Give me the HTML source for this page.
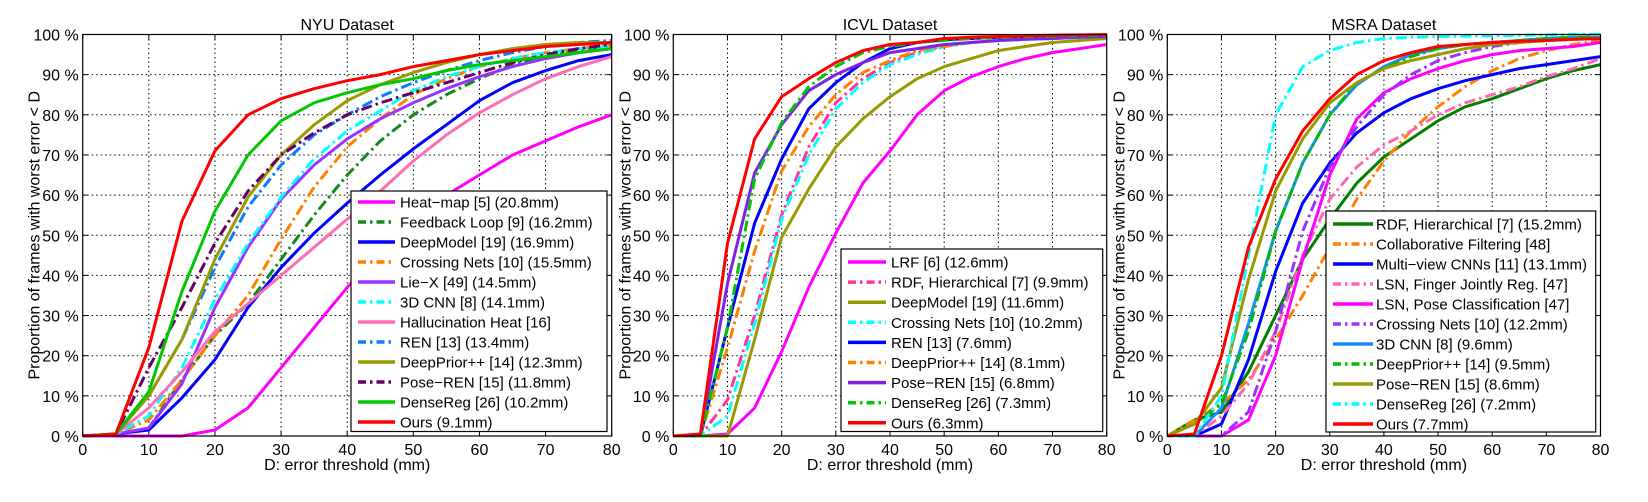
<!DOCTYPE html>
<html><head><meta charset="utf-8">
<style>
body{margin:0;background:#fff;}
svg{display:block;font-family:"Liberation Sans",Arial,sans-serif;}
</style></head>
<body>
<svg id="chart" width="1648" height="502" viewBox="0 0 1648 502" xmlns="http://www.w3.org/2000/svg"></svg>
<script>
const xValues = [0,5,10,15,20,25,30,35,40,45,50,55,60,65,70,75,80];
const xTicks = [0,10,20,30,40,50,60,70,80];
const yTicks = [0,10,20,30,40,50,60,70,80,90,100];

// NYU
const nyuHeat = [0,0,0,0,1.5,7,17,27,37,46,54,60,65,70,73.5,77,80];
const nyuFeedback = [0,0.5,2,14,25,33,44,55,65,73.5,80,85,89,92.5,94.5,96,97];
const nyuDeepModel = [0,0.5,1.5,9.5,19,32,42,50.5,58,65,71.5,77.5,83.5,88,91,93.5,95];
const nyuCrossing = [0,0.5,4,14,25,35,49,62,72,79,85,89,92,94,95.5,96.5,97.5];
const nyuLieX = [0,0.5,2,13,32,47,59,67.5,74,79,83,86.5,89.5,92,94,95.5,96.5];
const nyu3DCNN = [0,0.5,5,17,34,48,59.5,69,76,81,86,89.5,92,94,95.5,96.5,97];
const nyuHalluc = [0,0.5,7,16,26,33,40,47,54,61,68.5,75,80.5,85,89,92,94.5];
const nyuREN = [0,0.5,10,24,42,57,67.5,75,80,84.5,88,91,93.5,95.5,97,98,98.5];
const nyuDPP = [0,0.5,10,24,44,59.5,70,77.5,83.5,87.5,90.5,93,95,96.5,97.5,98,98];
const nyuPoseREN = [0,0.5,17,32,48,61,70,75.5,80,83,85.5,88,90.5,93,95,96.5,97.5];
const nyuDenseReg = [0,0.5,11,36,56,70,78.5,83,85.5,87.5,89,91,92.5,93.5,94.5,95.5,96.5];
const nyuOurs = [0,0.5,22,53.5,71,80,84,86.5,88.5,90,92,93.5,95,96,97,97.5,98];

// ICVL
const icvlLRF = [0,0,0.5,7,21,37,50.5,63,71,80,86,89.5,92,94,95.5,96.5,97.5];
const icvlRDF = [0,0,9,30,55,72,83,89,93,95.5,97,98,98.5,98.8,99,99.3,99.5];
const icvlDeepModel = [0,0,0,24,49.5,61.5,72,79,84.5,89,92,94,96,97,98,98.5,99];
const icvlCrossing = [0,0,5,28,54,70,81.5,88,92.5,95,97,98,98.5,98.8,99,99.3,99.5];
const icvlREN = [0,0,27,53,69,81.5,88,93,96.5,98,98.7,99,99.3,99.5,99.6,99.7,99.8];
const icvlDPP = [0,0,22,46,66,77,85,90.5,93.5,96,97,98,98.5,98.8,99,99.3,99.5];
const icvlPoseREN = [0,0,38,65.5,77.5,86,90,93,95.5,96.5,97.5,98,98.5,98.8,99,99.3,99.5];
const icvlDenseReg = [0,0,27,64,78,87,92,95.5,97,98,98.5,99,99.3,99.5,99.6,99.7,99.8];
const icvlOurs = [0,0.5,48,74,84.5,89,93,96,97.5,98,99,99.3,99.5,99.7,99.8,99.9,100];

// MSRA
const msraRDF = [0,4,6,16,30,44,54,63,69.5,74,78.5,82,84,86.5,89,91,92.5];
const msraCollab = [0,4,8,14,24,35,47,59,68.5,76,82,87,91,94,96,97.5,98.5];
const msraMultiView = [0,0,3,19,41,58,68,75.5,80.5,84,86.5,88.5,90,91.5,92.5,93.5,94.5];
const msraLSNFinger = [0,0,5,13,26,45,59,67,72.5,76,80,83,85,87,89.5,91.5,94];
const msraLSNPose = [0,0,0,4,20,44,65,79,85.5,89,91.5,93.5,95,96,96.5,97,98];
const msraCrossing = [0,0,0,6,26,51,67,77,85,90,93.5,95.5,97,98,98.5,98.8,99];
const msra3DCNN = [0,0,7,28,51,68,80,87.5,92,95,96.5,97.5,98,98.5,99,99.3,99.5];
const msraDPP = [0,3,8,26,51,68,80,88,91.5,94.5,96.5,97.5,98,98.5,99,99.3,99.5];
const msraPoseREN = [0,3,12,39,61,74,83,88,91.5,93.5,95,96.5,97.5,98,98.5,98.8,99];
const msraDenseReg = [0,0,10,45,80,92,96,98,99,99.3,99.5,99.6,99.7,99.8,99.9,100,100];
const msraOurs = [0,0.5,20,47,64,76,84,90,93.5,95.5,97,97.5,98,98.3,98.5,98.8,99];

const DD = "11,4,2.5,4";
const panels = [
 {name:'nyu', title:'NYU Dataset', L:82.7, R:611.7, lg:{x:351,y:191,w:256,h:240.5,row0:202,rh:20,lx:358,lw:37,tx:400},
  series:[
   {label:'Heat\u2212map [5] (20.8mm)', data:nyuHeat, color:'#ff00ff', dash:null},
   {label:'Feedback Loop [9] (16.2mm)', data:nyuFeedback, color:'#13891a', dash:DD},
   {label:'DeepModel [19] (16.9mm)', data:nyuDeepModel, color:'#0000ff', dash:null},
   {label:'Crossing Nets [10] (15.5mm)', data:nyuCrossing, color:'#ff7f00', dash:DD},
   {label:'Lie\u2212X [49] (14.5mm)', data:nyuLieX, color:'#9933ff', dash:null},
   {label:'3D CNN [8] (14.1mm)', data:nyu3DCNN, color:'#00ffff', dash:DD},
   {label:'Hallucination Heat [16]', data:nyuHalluc, color:'#ff6eb4', dash:null},
   {label:'REN [13] (13.4mm)', data:nyuREN, color:'#0a7cff', dash:DD},
   {label:'DeepPrior++ [14] (12.3mm)', data:nyuDPP, color:'#999900', dash:null},
   {label:'Pose\u2212REN [15] (11.8mm)', data:nyuPoseREN, color:'#660066', dash:DD},
   {label:'DenseReg [26] (10.2mm)', data:nyuDenseReg, color:'#00c800', dash:null},
   {label:'Ours (9.1mm)', data:nyuOurs, color:'#ff0000', dash:null}]},
 {name:'icvl', title:'ICVL Dataset', L:673.3, R:1106.7, lg:{x:841,y:249,w:261.7,h:182.5,row0:262,rh:20.1,lx:848,lw:38,tx:891},
  series:[
   {label:'LRF [6] (12.6mm)', data:icvlLRF, color:'#ff00ff', dash:null},
   {label:'RDF, Hierarchical [7] (9.9mm)', data:icvlRDF, color:'#ff3399', dash:DD},
   {label:'DeepModel [19] (11.6mm)', data:icvlDeepModel, color:'#999900', dash:null},
   {label:'Crossing Nets [10] (10.2mm)', data:icvlCrossing, color:'#00ffff', dash:DD},
   {label:'REN [13] (7.6mm)', data:icvlREN, color:'#0000ff', dash:null},
   {label:'DeepPrior++ [14] (8.1mm)', data:icvlDPP, color:'#ff7f00', dash:DD},
   {label:'Pose\u2212REN [15] (6.8mm)', data:icvlPoseREN, color:'#8022e6', dash:null},
   {label:'DenseReg [26] (7.3mm)', data:icvlDenseReg, color:'#00c800', dash:DD},
   {label:'Ours (6.3mm)', data:icvlOurs, color:'#ff0000', dash:null}]},
 {name:'msra', title:'MSRA Dataset', L:1167.3, R:1600.5, lg:{x:1326,y:211,w:269.7,h:221,row0:224,rh:20,lx:1333,lw:40,tx:1376},
  series:[
   {label:'RDF, Hierarchical [7] (15.2mm)', data:msraRDF, color:'#007f00', dash:null},
   {label:'Collaborative Filtering [48]', data:msraCollab, color:'#ff7f00', dash:DD},
   {label:'Multi\u2212view CNNs [11] (13.1mm)', data:msraMultiView, color:'#0000ff', dash:null},
   {label:'LSN, Finger Jointly Reg. [47]', data:msraLSNFinger, color:'#ff66b2', dash:DD},
   {label:'LSN, Pose Classification [47]', data:msraLSNPose, color:'#ff00ff', dash:null},
   {label:'Crossing Nets [10] (12.2mm)', data:msraCrossing, color:'#9933ff', dash:DD},
   {label:'3D CNN [8] (9.6mm)', data:msra3DCNN, color:'#1a8cff', dash:null},
   {label:'DeepPrior++ [14] (9.5mm)', data:msraDPP, color:'#00bb00', dash:DD},
   {label:'Pose\u2212REN [15] (8.6mm)', data:msraPoseREN, color:'#999900', dash:null},
   {label:'DenseReg [26] (7.2mm)', data:msraDenseReg, color:'#00ffff', dash:DD},
   {label:'Ours (7.7mm)', data:msraOurs, color:'#ff0000', dash:null}]}
];

const svg = document.getElementById('chart');
const NS = 'http://www.w3.org/2000/svg';
function mk(tag, attrs, parent){const e=document.createElementNS(NS,tag);for(const k in attrs)e.setAttribute(k,attrs[k]);(parent||svg).appendChild(e);return e;}
const TOP=34.5, BOT=436;

panels.forEach(p=>{
  const g = mk('g',{});
  
  
  const xs = v => p.L + (v/80)*(p.R-p.L);
  const ys = v => BOT - (v/100)*(BOT-TOP);
  xTicks.forEach(t=>{ if(t>0&&t<80){const l=mk('line',{x1:xs(t),x2:xs(t),y1:TOP,y2:BOT,stroke:'#000','stroke-width':1,'stroke-dasharray':'1.5,3'},g);
    
    }});
  yTicks.forEach(t=>{ if(t>0&&t<100){const l=mk('line',{x1:p.L,x2:p.R,y1:ys(t),y2:ys(t),stroke:'#000','stroke-width':1,'stroke-dasharray':'1.5,3'},g);
    
    }});
  xTicks.forEach(t=>{const tx=mk('text',{x:xs(t),y:455,'font-size':16,'text-anchor':'middle',fill:'#000'},g);tx.textContent=t;
    
    
    mk('line',{x1:xs(t),x2:xs(t),y1:BOT,y2:BOT-5,stroke:'#000'},g);mk('line',{x1:xs(t),x2:xs(t),y1:TOP,y2:TOP+5,stroke:'#000'},g);});
  yTicks.forEach(t=>{const tx=mk('text',{x:p.L-4,y:ys(t)+6,'font-size':16,'text-anchor':'end',fill:'#000'},g);tx.textContent=t+' %';
    
    
    mk('line',{x1:p.L,x2:p.L+5,y1:ys(t),y2:ys(t),stroke:'#000'},g);mk('line',{x1:p.R,x2:p.R-5,y1:ys(t),y2:ys(t),stroke:'#000'},g);});
  const ti=mk('text',{x:(p.L+p.R)/2,y:30,'font-size':16,'text-anchor':'middle'},g);ti.textContent=p.title;
  
  
  const xt=mk('text',{x:(p.L+p.R)/2,y:470,'font-size':16,'text-anchor':'middle'},g);xt.textContent='D: error threshold (mm)';
  
  
  const ylx=p.L-43, yly=(TOP+BOT)/2;
  const yt=mk('text',{x:ylx,y:yly,'font-size':16,'text-anchor':'middle',transform:`rotate(-90 ${ylx} ${yly})`},g);yt.textContent='Proportion of frames with worst error < D';
  
  
  p.series.forEach((s,i)=>{
    const d = s.data.map((v,j)=>(j?'L':'M')+xs(xValues[j]).toFixed(1)+','+ys(v).toFixed(1)).join(' ');
    const pa = mk('path',{d:d,fill:'none',stroke:s.color,'stroke-width':3,'stroke-linejoin':'round'},g);
    if(s.dash) pa.setAttribute('stroke-dasharray',s.dash);
    
    
  });
  const fr=mk('rect',{x:p.L,y:TOP,width:p.R-p.L,height:BOT-TOP,fill:'none',stroke:'#000','stroke-width':1.2},g);
  
  
  const lg=p.lg;
  const lgG=mk('g',{},g);
  
  
  mk('rect',{x:lg.x,y:lg.y,width:lg.w,height:lg.h,fill:'#fff',stroke:'#000','stroke-width':1.2},lgG);
  p.series.forEach((s,i)=>{
    const cy=lg.row0+i*lg.rh;
    const e=mk('g',{},lgG);
    
    
    const l=mk('line',{x1:lg.lx,x2:lg.lx+lg.lw,y1:cy,y2:cy,stroke:s.color,'stroke-width':3.5},e);
    if(s.dash) l.setAttribute('stroke-dasharray','8,4,2.5,4');
    const t=mk('text',{x:lg.tx,y:cy+5.5,'font-size':15},e);t.textContent=s.label;
  });
});
</script>
</body></html>
